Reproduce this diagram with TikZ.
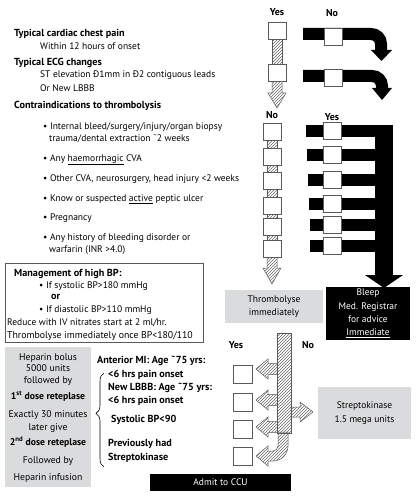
\documentclass[tikz,border=0pt]{standalone}
\usepackage{fontspec}
\setmainfont{PT Sans}
\usetikzlibrary{patterns,decorations.pathreplacing,calc}
\definecolor{boxgray}{RGB}{218,219,221}
\definecolor{hatchline}{RGB}{105,105,105}
\definecolor{edgegray}{RGB}{90,90,90}
\begin{document}
\begin{tikzpicture}[x=1pt,y=-1pt,
  txt/.style={anchor=base west,inner sep=0,font=\fontsize{9.5}{11}\selectfont},
  btxt/.style={anchor=base west,inner sep=0,font=\fontsize{10.2}{11}\selectfont\bfseries},
  ctxt/.style={anchor=base,inner sep=0,font=\fontsize{9.7}{11}\selectfont},
  lbl/.style={inner sep=0,font=\fontsize{10}{11}\selectfont\bfseries},
  sq/.style={draw=edgegray,fill=white,minimum width=18pt,minimum height=17pt,inner sep=0,line width=0.6pt},
  hatch/.style={pattern=north east lines,pattern color=hatchline,draw=edgegray,line width=0.5pt},
  gbox/.style={fill=boxgray,draw=none,inner sep=0,align=center,font=\fontsize{9.5}{13.5}\selectfont},
  kbox/.style={fill=black,draw=none,inner sep=0,align=center,text=white,font=\fontsize{9.5}{13.3}\selectfont},
]
\useasboundingbox[fill=white] (0,0) rectangle (419,500);

% ---------- left texts ----------
\node[btxt] (t1) at (14,36.7) {Typical cardiac chest pain};
\node[txt] (t1a) at (40,50) {Within 12 hours of onset};
\node[btxt] (t2) at (14,65.5) {Typical ECG changes};
\node[txt] (t2a) at (40,78) {ST elevation Ð1mm in Ð2 contiguous leads};
\node[txt] (t2b) at (40,91.5) {Or New LBBB};
\node[btxt] (t3) at (14,109) {Contraindications to thrombolysis};
\node[txt] (c1) at (43,129) {• Internal bleed/surgery/injury/organ biopsy};
\node[txt] (c1b) at (49,141) {trauma/dental extraction ˜2 weeks};
\node[txt] (c2) at (43,161) {• Any \underline{haemorrhagic} CVA};
\node[txt] (c3) at (43,181.5) {• Other CVA, neurosurgery, head injury <2 weeks};
\node[txt] (c4) at (43,201.5) {• Know or suspected \underline{active} peptic ulcer};
\node[txt] (c5) at (43,220.5) {• Pregnancy};
\node[txt] (c6) at (43,240) {• Any history of bleeding disorder or};
\node[txt] (c6b) at (49,252.5) {warfarin (INR >4.0)};

% ---------- management box ----------
\node[draw=edgegray,line width=0.6pt,minimum width=198pt,minimum height=79pt,inner sep=0,anchor=north west] (mgmt) at (5,263) {};
\node[btxt] (m1) at (14,276.7) {Management of high BP:};
\node[txt] (m2) at (39,288) {• If systolic BP>180 mmHg};
\node[btxt] (m3) at (51,299.5) {or};
\node[txt] (m4) at (39,312.5) {• If diastolic BP>110 mmHg};
\node[txt] (m5) at (7,325.7) {Reduce with IV nitrates start at 2 ml/hr.};
\node[txt,font=\fontsize{9.8}{11}\selectfont] (m6) at (7,338) {Thrombolyse immediately once BP<180/110};

% ---------- heparin box ----------
\node[gbox,minimum width=86pt,minimum height=140pt,anchor=north west] (hep) at (5,347) {};
\node[ctxt] (h1) at (48,360) {Heparin bolus};
\node[ctxt] (h2) at (48,371.5) {5000 units};
\node[ctxt] (h3) at (48,383) {followed by};
\node[ctxt,font=\fontsize{9.7}{11}\selectfont\bfseries] (h4) at (48,399) {1\textsuperscript{st} dose reteplase};
\node[ctxt] (h5) at (48,417.5) {Exactly 30 minutes};
\node[ctxt] (h6) at (48,430) {later give};
\node[ctxt,font=\fontsize{9.7}{11}\selectfont\bfseries] (h7) at (48,445) {2\textsuperscript{nd} dose reteplase};
\node[ctxt] (h8) at (48,463) {Followed by};
\node[ctxt] (h9) at (48,480) {Heparin infusion};

% ---------- criteria list ----------
\node[btxt] (r1) at (97,363) {Anterior MI: Age ˜75 yrs:};
\node[btxt] (r1b) at (108,377) {<6 hrs pain onset};
\node[btxt] (r2) at (108,390) {New LBBB: Age ˜75 yrs:};
\node[btxt] (r2b) at (108,403) {<6 hrs pain onset};
\node[btxt] (r3) at (111,422) {Systolic BP<90};
\node[btxt] (r4) at (108,446) {Previously had};
\node[btxt] (r4b) at (108,460) {Streptokinase};
\coordinate (brb) at (104,467);
\coordinate (brt) at (104,373);
\draw[line width=0.6pt,decorate,decoration={brace,amplitude=8pt,aspect=0.57}] (brb) -- (brt);

\node[kbox,minimum width=141pt,minimum height=17pt] (ccu) at (220.5,482.5) {Admit to CCU};

% ---------- top Yes / No ----------
\node[lbl] (yes1) at (277,12.5) {Yes};
\node[lbl] (no1) at (332,13) {No};
\coordinate (ya0) at (277,31);
\coordinate (yb0) at (277,73);
\path[hatch] ($(ya0)+(-5,8)$) rectangle ($(yb0)+(5,-8)$);
\draw[hatch] ($(yb0)+(-5,8)$) -- ++(0,12) -- ++(-4,0) -- ++(9,15) -- ++(9,-15) -- ++(-4,0) -- ++(0,-12) -- cycle;
\node[sq] (ya) at (ya0) {};
\node[sq] (yb) at (yb0) {};

\draw[line width=12pt] (303,34) -- (371,34) arc[start angle=-90,end angle=0,radius=10] -- (381,51);
\fill (371,50) -- (392,50) -- (381.5,61) -- cycle;
\node[sq] (na) at (333,36.5) {};
\draw[line width=12pt] (303,76) -- (372,76) arc[start angle=-90,end angle=0,radius=10] -- (382,89);
\fill (372,88) -- (392,88) -- (382,100) -- cycle;
\node[sq] (nb) at (333,78) {};

% ---------- contraindication columns ----------
\node[lbl] (no2) at (272,115.5) {No};
\node[lbl] (yes2) at (332,117) {Yes};

\path[hatch] (267,131) rectangle (277,257);
\draw[hatch] (267,256) -- (267,268) -- (263,268) -- (272,284) -- (281,268) -- (277,268) -- (277,256) -- cycle;
\foreach \i/\y in {1/131.5,2/156.5,3/181,4/205.5,5/226.5,6/248.5}{
  \node[sq] (cn\i) at (272,\y) {};
}

\fill (375,125) rectangle (393,276);
\fill (365,275) -- (403,275) -- (384,288) -- cycle;
\foreach \i/\y/\xl in {1/131/306,2/155/307,3/180/308,4/203.5/309,5/224.5/310,6/245.5/310}{
  \fill (\xl,\y-6) rectangle (384,\y+6);
  \node[sq] (cy\i) at (332,\y) {};
}

% ---------- outcome boxes ----------
\node[gbox,minimum width=98pt,minimum height=33pt] (thr) at (274,306.5) {Thrombolyse\\immediately};
\node[kbox,minimum width=84pt,minimum height=53pt] (bleep) at (368,313.5) {Bleep\\Med. Registrar\\for advice\\\underline{Immediate}};

% ---------- streptokinase section ----------
\node[lbl] (yes3) at (236,345) {Yes};
\node[lbl] (no3) at (308,345) {No};
\foreach \y in {369,400,427}{
  \draw[hatch] (278,\y-5.5) -- (268,\y-5.5) -- (268,\y-10) -- (256,\y) -- (268,\y+10) -- (268,\y+5.5) -- (278,\y+5.5);
}
\draw[hatch] (290,407) -- (300,407) -- (300,402) -- (313,412) -- (300,422) -- (300,417) -- (290,417);
\draw[hatch] (278,432) -- (288,432) -- (288,446) arc[start angle=0,end angle=90,radius=15] -- (268,461) -- (268,466) -- (256,456) -- (268,446) -- (268,451) -- (273,451) arc[start angle=90,end angle=0,radius=5] -- cycle;
\draw[hatch] (277,333) rectangle (291,433);
\foreach \i/\y in {1/374,2/402,3/429,4/456.5}{
  \node[sq,minimum width=19pt,minimum height=18pt] (sy\i) at (242.5,\y) {};
}
\node[gbox,minimum width=93pt,minimum height=52pt] (strep) at (364.5,413) {Streptokinase\\1.5 mega units};
\end{tikzpicture}
\end{document}
